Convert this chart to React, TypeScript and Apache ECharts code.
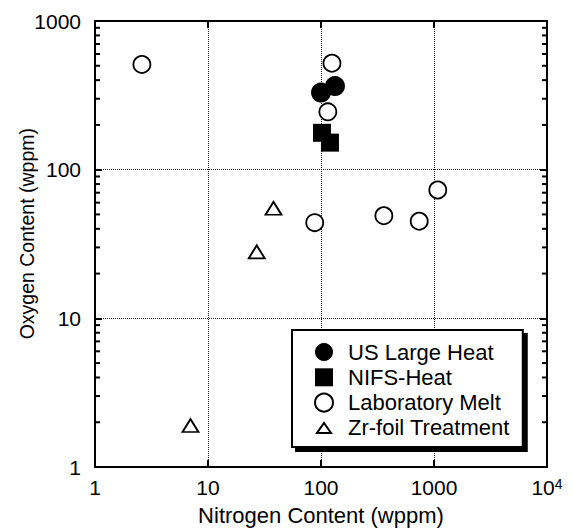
import React, { useEffect, useRef } from 'react';
import * as echarts from 'echarts';

// Data (Nitrogen wppm, Oxygen wppm)
const usLargeHeat: number[][] = [[100, 330], [133, 365]];
const nifsHeat: number[][] = [[102, 177], [120, 152]];
const laboratoryMelt: number[][] = [[2.6, 510], [125, 520], [115, 245], [88, 44], [360, 49], [740, 45], [1080, 73]];
const zrFoilTreatment: number[][] = [[38, 55], [27, 28], [7, 1.9]];

const seriesNames = ['US Large Heat', 'NIFS-Heat', 'Laboratory Melt', 'Zr-foil Treatment'];
const xTitle = 'Nitrogen Content (wppm)';
const yTitle = 'Oxygen Content (wppm)';
const xRange = [1, 10000];
const yRange = [1, 1000];
const yMinorTicks = [2, 3, 4, 5, 6, 7, 8, 9, 20, 30, 40, 50, 60, 70, 80, 90, 200, 300, 400, 500, 600, 700, 800, 900];

const FONT = '"Liberation Sans", Arial, Helvetica, sans-serif';

export default function App() {
  const ref = useRef<HTMLDivElement>(null);
  useEffect(() => {
    if (!ref.current) return;
    const chart = echarts.init(ref.current, undefined, { renderer: 'svg' });
    const axisLine = { show: true, lineStyle: { color: '#000', width: 2 } };
    const axisTick = { show: true, inside: true, length: 7, lineStyle: { color: '#000', width: 2 } };
    const splitLine = { show: true, lineStyle: { color: '#222', width: 1, type: [1, 1] as any } };
    const minorTickSeries = (name: string, xv: number, offset: number) => ({
      type: 'scatter', name, clip: false, silent: true,
      data: yMinorTicks.map((v) => [xv, v]),
      symbol: 'rect', symbolSize: [5, 2], symbolOffset: [offset, 0],
      itemStyle: { color: '#000', opacity: 1 },
    });
    const option: any = {
      animation: false,
      backgroundColor: '#fff',
      textStyle: { fontFamily: FONT },
      grid: { left: 95, right: 27, top: 21, bottom: 61.5, containLabel: false },
      graphic: [
        {
          type: 'text', left: 17, top: 128, rotation: Math.PI / 2,
          style: { text: yTitle, fontSize: 19.5, fontFamily: FONT, fill: '#000' },
        },
      ],
      xAxis: [
        {
          type: 'log', logBase: 10, min: xRange[0], max: xRange[1], position: 'bottom',
          axisLine, axisTick, splitLine,
          axisLabel: {
            margin: 10, color: '#000', fontSize: 21, fontFamily: FONT,
            formatter: (v: number) => {
              const r = Math.round(v);
              return r === 10000 ? '{a|10}{s|4}' : String(r);
            },
            rich: {
              a: { fontSize: 21, fontFamily: FONT, color: '#000' },
              s: { fontSize: 14, fontFamily: FONT, color: '#000', verticalAlign: 'top' },
            },
          },
          name: xTitle, nameLocation: 'middle', nameGap: 37,
          nameTextStyle: { fontSize: 22, fontFamily: FONT, color: '#000' },
        },
        {
          type: 'log', logBase: 10, min: xRange[0], max: xRange[1], position: 'top',
          axisLine, axisTick, splitLine: { show: false }, axisLabel: { show: false },
        },
      ],
      yAxis: [
        {
          type: 'log', logBase: 10, min: yRange[0], max: yRange[1], position: 'left',
          axisLine, axisTick, splitLine,
          axisLabel: { margin: 14, color: '#000', fontSize: 21, fontFamily: FONT, formatter: (v: number) => String(Math.round(v)) },
        },
        {
          type: 'log', logBase: 10, min: yRange[0], max: yRange[1], position: 'right',
          axisLine, axisTick, splitLine: { show: false }, axisLabel: { show: false },
        },
      ],
      legend: {
        data: [
          { name: seriesNames[0], icon: 'circle' },
          { name: seriesNames[1], icon: 'rect' },
          { name: seriesNames[2], icon: 'circle' },
          { name: seriesNames[3], icon: 'path://M0,0M18,18M2,14L9,4L16,14Z' },
        ],
        orient: 'vertical', left: 292, top: 330,
        itemWidth: 18, itemHeight: 18, itemGap: 3.3,
        padding: [11, 13, 8, 22],
        backgroundColor: '#fff', borderColor: '#000', borderWidth: 2, borderRadius: 0,
        shadowColor: '#000', shadowOffsetX: 4, shadowOffsetY: 4, shadowBlur: 0,
        textStyle: { fontSize: 22, fontFamily: FONT, color: '#000', lineHeight: 22, padding: [0, 0, 0, 10] },
        selectedMode: false,
      },
      series: [
        {
          type: 'scatter', name: seriesNames[2], data: laboratoryMelt, symbol: 'circle', symbolSize: 17,
          itemStyle: { color: '#fff', borderColor: '#000', borderWidth: 1.8, opacity: 1 }, emphasis: { disabled: true }, z: 3,
        },
        {
          type: 'scatter', name: seriesNames[3], data: zrFoilTreatment, symbol: 'triangle', symbolSize: [16, 13],
          itemStyle: { color: '#fff', borderColor: '#000', borderWidth: 1.8, opacity: 1 }, emphasis: { disabled: true }, z: 3,
        },
        {
          type: 'scatter', name: seriesNames[1], data: nifsHeat, symbol: 'rect', symbolSize: 18,
          itemStyle: { color: '#000', opacity: 1 }, emphasis: { disabled: true }, z: 4,
        },
        {
          type: 'scatter', name: seriesNames[0], data: usLargeHeat, symbol: 'circle', symbolSize: 20,
          itemStyle: { color: '#000', opacity: 1 }, emphasis: { disabled: true }, z: 4,
        },
        minorTickSeries('minor ticks left', xRange[0], 2.5),
        minorTickSeries('minor ticks right', xRange[1], -2.5),
      ],
    };
    chart.setOption(option);
    return () => chart.dispose();
  }, []);
  return <div ref={ref} style={{ position: 'absolute', left: 0, top: 0, width: 574, height: 531 }} />;
}
